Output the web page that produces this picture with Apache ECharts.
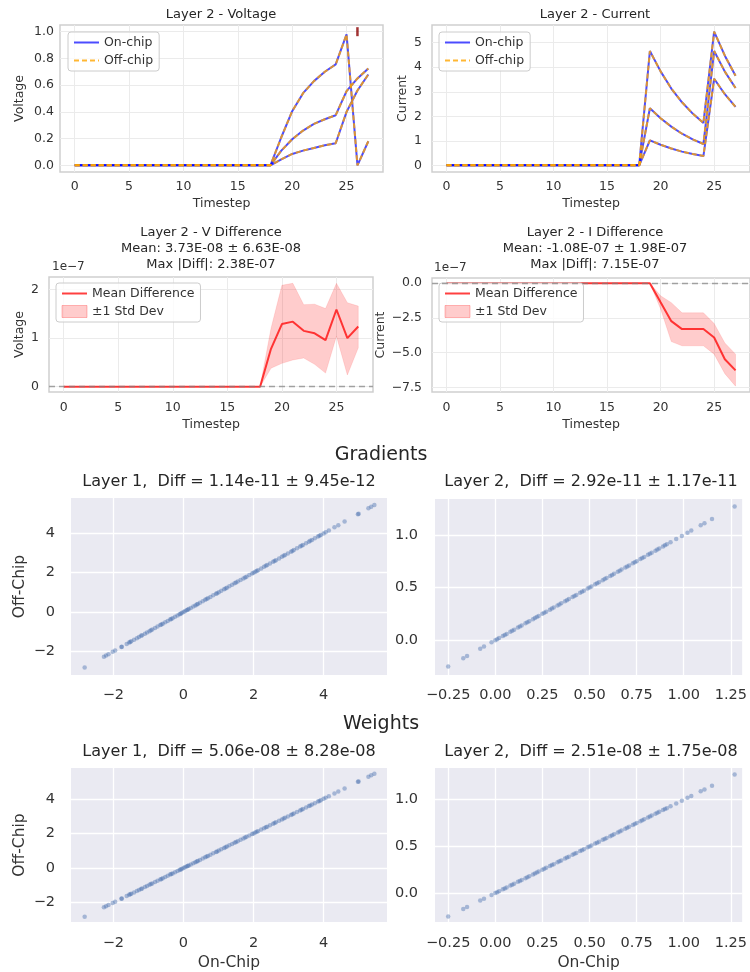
<!DOCTYPE html>
<html>
<head>
<meta charset="utf-8">
<script src="https://cdn.jsdelivr.net/npm/echarts@6/dist/echarts.min.js"></script>
<style>
html, body { margin: 0; padding: 0; background: #fff; }
#chart { width: 750px; height: 972px; }
</style>
</head>
<body>
<div id="chart"></div>
<script>
// timesteps 0..27
var timesteps = [0, 1, 2, 3, 4, 5, 6, 7, 8, 9, 10, 11, 12, 13, 14, 15, 16, 17, 18, 19, 20, 21, 22, 23, 24, 25, 26, 27];

// layer 2 voltage, 3 neurons (on-chip; off-chip is the same to ~1e-7)
var volt1 = [0, 0, 0, 0, 0, 0, 0, 0, 0, 0, 0, 0, 0, 0, 0, 0, 0, 0, 0, 0.21, 0.405, 0.54, 0.63, 0.70, 0.755, 0.98, 0.0, 0.18];
var volt2 = [0, 0, 0, 0, 0, 0, 0, 0, 0, 0, 0, 0, 0, 0, 0, 0, 0, 0, 0, 0.11, 0.195, 0.26, 0.31, 0.345, 0.375, 0.555, 0.65, 0.725];
var volt3 = [0, 0, 0, 0, 0, 0, 0, 0, 0, 0, 0, 0, 0, 0, 0, 0, 0, 0, 0, 0.045, 0.085, 0.11, 0.13, 0.15, 0.165, 0.40, 0.56, 0.68];
var spikeTimes = [26];
var spikeLevel = [1.0];

// layer 2 current, 3 neurons
var curr1 = [0, 0, 0, 0, 0, 0, 0, 0, 0, 0, 0, 0, 0, 0, 0, 0, 0, 0, 0, 4.66, 3.83, 3.13, 2.57, 2.11, 1.73, 5.45, 4.47, 3.65];
var curr2 = [0, 0, 0, 0, 0, 0, 0, 0, 0, 0, 0, 0, 0, 0, 0, 0, 0, 0, 0, 2.33, 1.92, 1.58, 1.29, 1.06, 0.87, 4.66, 3.82, 3.15];
var curr3 = [0, 0, 0, 0, 0, 0, 0, 0, 0, 0, 0, 0, 0, 0, 0, 0, 0, 0, 0, 1.02, 0.84, 0.69, 0.56, 0.46, 0.38, 3.53, 2.90, 2.38];

// differences, in units of 1e-7
var vDiffMean = [0, 0, 0, 0, 0, 0, 0, 0, 0, 0, 0, 0, 0, 0, 0, 0, 0, 0, 0, 0.78, 1.29, 1.34, 1.15, 1.10, 0.96, 1.59, 1.00, 1.24];
var vDiffLow  = [0, 0, 0, 0, 0, 0, 0, 0, 0, 0, 0, 0, 0, 0, 0, 0, 0, 0, 0, 0.38, 0.48, 0.55, 0.59, 0.46, 0.28, 1.04, 0.24, 0.80];
var vDiffHigh = [0, 0, 0, 0, 0, 0, 0, 0, 0, 0, 0, 0, 0, 0, 0, 0, 0, 0, 0, 1.20, 2.09, 2.13, 1.69, 1.70, 1.61, 2.13, 1.73, 1.66];
var iDiffMean = [0, 0, 0, 0, 0, 0, 0, 0, 0, 0, 0, 0, 0, 0, 0, 0, 0, 0, 0, 0, -1.38, -2.73, -3.30, -3.30, -3.30, -3.90, -5.47, -6.27];
var iDiffLow  = [0, 0, 0, 0, 0, 0, 0, 0, 0, 0, 0, 0, 0, 0, 0, 0, 0, 0, 0, 0, -1.85, -4.20, -4.50, -4.50, -4.50, -5.10, -6.50, -7.40];
var iDiffHigh = [0, 0, 0, 0, 0, 0, 0, 0, 0, 0, 0, 0, 0, 0, 0, 0, 0, 0, 0, 0, -0.91, -1.40, -2.13, -2.13, -2.13, -2.90, -4.30, -5.10];

// on-chip values for the scatter plots (off-chip differs only by ~1e-8..1e-11)
var layer1Vals = [-2.82, -2.27, -2.21, -2.14, -2.02, -1.95, -1.77, -1.76, -1.62, -1.55, -1.49, -1.41, -1.33, -1.27, -1.18, -1.10,
  -1.04, -0.97, -0.89, -0.81, -0.74, -0.66, -0.59, -0.52, -0.45, -0.38, -0.31, -0.24, -0.17, -0.11, -0.05, 0.00, 0.04, 0.09,
  0.15, 0.21, 0.28, 0.34, 0.41, 0.47, 0.55, 0.62, 0.70, 0.77, 0.85, 0.93, 1.01, 1.08, 1.16, 1.24, 1.31, 1.39, 1.46, 1.55,
  1.63, 1.71, 1.80, 1.88, 1.96, 2.00, 2.05, 2.13, 2.22, 2.30, 2.39, 2.47, 2.56, 2.64, 2.73, 2.81, 2.90, 2.98, 3.07, 3.15,
  3.24, 3.33, 3.41, 3.50, 3.58, 3.67, 3.75, 3.84, 3.92, 4.00, 4.06, 4.15, 4.31, 4.42, 4.60, 4.98, 5.00, 5.28, 5.36, 5.45,
  -1.52, -1.21, -0.93, -0.63, -0.35, -0.08, 0.12, 0.38, 0.66, 0.96, 1.20, 1.50, 1.76, 2.09, 2.35, 2.60, 2.86, 3.11, 3.37,
  3.62, 3.88];
var layer2Vals = [-0.25, -0.17, -0.15, -0.08, -0.06, -0.02, 0.00, 0.02, 0.04, 0.06, 0.08, 0.10, 0.12, 0.14, 0.16, 0.18, 0.20,
  0.21, 0.23, 0.25, 0.27, 0.29, 0.31, 0.33, 0.35, 0.37, 0.39, 0.41, 0.43, 0.45, 0.47, 0.49, 0.51, 0.53, 0.55, 0.57, 0.59,
  0.61, 0.63, 0.65, 0.67, 0.69, 0.71, 0.73, 0.75, 0.77, 0.79, 0.81, 0.83, 0.85, 0.87, 0.89, 0.91, 0.93, 0.96, 0.99, 1.02,
  1.04, 1.09, 1.11, 1.15, 1.27, 0.01, 0.05, 0.09, 0.13, 0.17, 0.22, 0.26, 0.30, 0.34, 0.38, 0.42, 0.46, 0.50, 0.54, 0.58,
  0.62, 0.66, 0.70, 0.74, 0.78, 0.82, 0.86, 0.90];
// weights look the same as gradients in the picture
var weightL1Vals = layer1Vals;
var weightL2Vals = layer2Vals;

var chart = echarts.init(document.getElementById('chart'));

var dark = '#333333';
var font = 'DejaVu Sans';

function pairs(ys) {
  return timesteps.map(function (t, i) { return [t, ys[i]]; });
}
function same(vals) {
  return vals.map(function (v) { return [v, v]; });
}
function fmt(d) {
  return function (v) {
    var s = Math.abs(v).toFixed(d);
    return (v < -1e-9 ? '\u2212' : '') + s;
  };
}

// time-series x axes
function timeX(idx, labelMargin, gap) {
  return {
    type: 'value', gridIndex: idx, min: -1.35, max: 28.35, minInterval: 5, maxInterval: 5,
    name: 'Timestep', nameLocation: 'middle', nameGap: gap,
    nameTextStyle: { fontSize: 12.5, color: dark, fontFamily: font },
    axisLine: { show: false }, axisTick: { show: false },
    axisLabel: { color: dark, fontSize: 12.5, margin: labelMargin, showMinLabel: false, showMaxLabel: false, fontFamily: font },
    splitLine: { show: true, showMinLine: false, showMaxLine: false, lineStyle: { color: '#ebebeb', width: 1 } }
  };
}
function timeY(idx, name, min, max, step, dec, labelMargin, gap) {
  return {
    type: 'value', gridIndex: idx, min: min, max: max, minInterval: step, maxInterval: step,
    name: name, nameLocation: 'middle', nameGap: gap,
    nameTextStyle: { fontSize: 12.5, color: dark, fontFamily: font },
    axisLine: { show: false }, axisTick: { show: false },
    axisLabel: { color: dark, fontSize: 12.5, margin: labelMargin, formatter: fmt(dec), showMinLabel: false, showMaxLabel: false, fontFamily: font },
    splitLine: { show: true, showMinLine: false, showMaxLine: false, lineStyle: { color: '#ebebeb', width: 1 } }
  };
}
// scatter axes (seaborn darkgrid)
function scatAxis(idx, min, max, step, dec, name, gap, labelMargin) {
  return {
    type: 'value', gridIndex: idx, min: min, max: max, minInterval: step, maxInterval: step,
    name: name, nameLocation: 'middle', nameGap: gap,
    nameTextStyle: { fontSize: 15.5, color: dark, fontFamily: font },
    axisLine: { show: false }, axisTick: { show: false },
    axisLabel: { color: dark, fontSize: 14.5, margin: labelMargin, formatter: fmt(dec), showMinLabel: false, showMaxLabel: false, fontFamily: font },
    splitLine: { show: true, showMinLine: false, showMaxLine: false, lineStyle: { color: '#ffffff', width: 1.3 } }
  };
}

var frameGrid = { show: true, backgroundColor: '#ffffff', borderColor: '#cfcfcf', borderWidth: 1.5 };
var darkGrid = { show: true, backgroundColor: '#eaeaf2', borderWidth: 0 };
function g(base, l, t, w, h) {
  return Object.assign({}, base, { left: l, top: t, width: w, height: h });
}

var titleStyle = { fontSize: 13, fontWeight: 'normal', color: '#262626', fontFamily: font, lineHeight: 16 };
var scatTitle = { fontSize: 16, fontWeight: 'normal', color: '#262626', fontFamily: font };
var supTitle = { fontSize: 19, fontWeight: 'normal', color: '#262626', fontFamily: font };
function title(text, x, y, style) {
  return { text: text, left: x, top: y, textAlign: 'center', padding: 0, textStyle: style };
}

var legendBase = {
  orient: 'vertical', backgroundColor: 'rgba(255,255,255,0.8)', borderColor: '#cccccc', borderWidth: 1,
  borderRadius: 3, padding: [4, 6, 4, 5], itemGap: 5, itemWidth: 25, itemHeight: 12,
  textStyle: { fontSize: 12.5, color: dark, fontFamily: font }
};
function legend(l, t, data) {
  return Object.assign({}, legendBase, { left: l, top: t, data: data });
}
// line entries without the round symbol
function lineItem(name) {
  return { name: name, itemStyle: { opacity: 0 } };
}

var series = [];
function neuronLines(idx, arrays) {
  arrays.forEach(function (arr) {
    series.push({
      name: 'On-chip', type: 'line', xAxisIndex: idx, yAxisIndex: idx, data: pairs(arr),
      symbol: 'none', lineStyle: { color: 'rgba(0,0,255,0.7)', width: 2 }, itemStyle: { color: 'rgba(0,0,255,0.7)' }, z: 2
    });
  });
  arrays.forEach(function (arr) {
    series.push({
      name: 'Off-chip', type: 'line', xAxisIndex: idx, yAxisIndex: idx, data: pairs(arr),
      symbol: 'none', lineStyle: { color: 'rgba(255,165,0,0.8)', width: 2, type: [5, 3] }, itemStyle: { color: 'rgba(255,165,0,0.8)' }, z: 3
    });
  });
}
neuronLines(0, [volt1, volt2, volt3]);
neuronLines(1, [curr1, curr2, curr3]);

series.push({
  name: 'Spike', type: 'scatter', xAxisIndex: 0, yAxisIndex: 0,
  data: spikeTimes.map(function (t, i) { return [t, spikeLevel[i]]; }),
  symbol: 'rect', symbolSize: [2.5, 9], itemStyle: { color: '#8b0000' }, z: 5
});

function diffPanel(idx, mean, low, high) {
  // ±1 std band drawn as one polygon through the axis scales
  series.push({
    name: '\u00b11 Std Dev', type: 'custom', xAxisIndex: idx, yAxisIndex: idx,
    data: [[timesteps[0], low[0]]],
    itemStyle: { color: 'rgba(255,0,0,0.2)' },
    renderItem: function (params, api) {
      var pts = [];
      for (var i = 0; i < timesteps.length; i++) pts.push(api.coord([timesteps[i], high[i]]));
      for (var j = timesteps.length - 1; j >= 0; j--) pts.push(api.coord([timesteps[j], low[j]]));
      return {
        type: 'polygon', shape: { points: pts },
        style: { fill: 'rgba(255,0,0,0.2)', stroke: 'rgba(255,0,0,0.1)', lineWidth: 1 }
      };
    },
    z: 1
  });
  series.push({
    name: 'Mean Difference', type: 'line', xAxisIndex: idx, yAxisIndex: idx, data: pairs(mean),
    symbol: 'none', lineStyle: { color: 'rgba(255,0,0,0.75)', width: 2 }, itemStyle: { color: 'rgba(255,0,0,0.75)' }, z: 3,
    markLine: {
      silent: true, symbol: 'none', label: { show: false },
      lineStyle: { color: 'rgba(128,128,128,0.7)', type: [6, 4], width: 1.3 },
      data: [{ yAxis: 0 }]
    }
  });
}
diffPanel(2, vDiffMean, vDiffLow, vDiffHigh);
diffPanel(3, iDiffMean, iDiffLow, iDiffHigh);

var scatterSets = [layer1Vals, layer2Vals, weightL1Vals, weightL2Vals];
scatterSets.forEach(function (vals, k) {
  series.push({
    name: 'pts' + k, type: 'scatter', xAxisIndex: 4 + k, yAxisIndex: 4 + k, data: same(vals),
    symbol: 'circle', symbolSize: 4.5, itemStyle: { color: 'rgba(76,114,176,0.55)' }
  });
});

var bandLegend = { name: '\u00b11 Std Dev', icon: 'rect', itemStyle: { color: 'rgba(255,0,0,0.2)', borderColor: 'rgba(255,0,0,0.25)', borderWidth: 1 } };

var option = {
  animation: false,
  textStyle: { fontFamily: font },
  title: [
    title('Layer 2 - Voltage', 221, 7, titleStyle),
    title('Layer 2 - Current', 595, 7, titleStyle),
    title('Layer 2 - V Difference\nMean: 3.73E-08 \u00b1 6.63E-08\nMax |Diff|: 2.38E-07', 211, 225, titleStyle),
    title('Layer 2 - I Difference\nMean: -1.08E-07 \u00b1 1.98E-07\nMax |Diff|: 7.15E-07', 595, 225, titleStyle),
    title('Gradients', 381, 446, supTitle),
    title('Layer 1,  Diff = 1.14e-11 \u00b1 9.45e-12', 229, 474, scatTitle),
    title('Layer 2,  Diff = 2.92e-11 \u00b1 1.17e-11', 591, 474, scatTitle),
    title('Weights', 381, 715, supTitle),
    title('Layer 1,  Diff = 5.06e-08 \u00b1 8.28e-08', 229, 744, scatTitle),
    title('Layer 2,  Diff = 2.51e-08 \u00b1 1.75e-08', 591, 744, scatTitle)
  ],
  legend: [
    legend(68, 32, [lineItem('On-chip'), lineItem('Off-chip')]),
    legend(439, 32, [lineItem('On-chip'), lineItem('Off-chip')]),
    legend(56, 283, [lineItem('Mean Difference'), bandLegend]),
    legend(439, 283, [lineItem('Mean Difference'), bandLegend])
  ],
  graphic: [
    { type: 'text', left: 52, top: 261, style: { text: '1e\u22127', fontSize: 12, fill: dark, fontFamily: font } },
    { type: 'text', left: 434, top: 262, style: { text: '1e\u22127', fontSize: 12, fill: dark, fontFamily: font } }
  ],
  grid: [
    g(frameGrid, 60, 25, 323, 147),
    g(frameGrid, 432, 25, 327, 147),
    g(frameGrid, 49, 277, 324, 115),
    g(frameGrid, 432, 278, 327, 114),
    g(darkGrid, 71, 498, 316, 177),
    g(darkGrid, 435, 499, 310, 176),
    g(darkGrid, 71, 768, 316, 154),
    g(darkGrid, 435, 768, 310, 154)
  ],
  xAxis: [
    timeX(0, 8, 25),
    timeX(1, 8, 25),
    timeX(2, 9, 26),
    timeX(3, 9, 26),
    scatAxis(4, -3.21, 5.81, 2, 0, '', 0, 13),
    scatAxis(5, -0.32, 1.31, 0.25, 2, '', 0, 13),
    scatAxis(6, -3.21, 5.81, 2, 0, 'On-Chip', 33, 14),
    scatAxis(7, -0.32, 1.31, 0.25, 2, 'On-Chip', 33, 14)
  ],
  yAxis: [
    timeY(0, 'Voltage', -0.05, 1.05, 0.2, 1, 6, 34),
    timeY(1, 'Current', -0.27, 5.72, 1, 0, 10, 23),
    timeY(2, 'Voltage', -0.11, 2.26, 1, 0, 10, 23),
    timeY(3, 'Current', -7.82, 0.37, 2.5, 1, 10, 44),
    scatAxis(4, -3.2, 5.8, 2, 0, 'Off-Chip', 43, 16),
    scatAxis(5, -0.33, 1.34, 0.5, 1, '', 0, 17),
    scatAxis(6, -3.12, 5.78, 2, 0, 'Off-Chip', 43, 16),
    scatAxis(7, -0.31, 1.34, 0.5, 1, '', 0, 17)
  ],
  series: series
};

chart.setOption(option);
</script>
</body>
</html>
